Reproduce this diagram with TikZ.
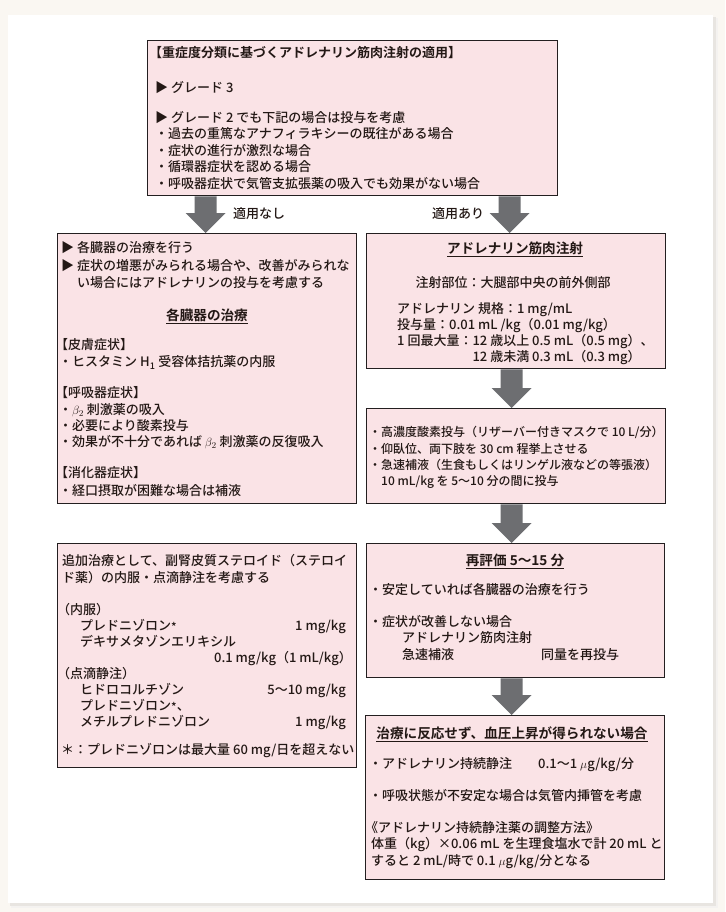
\documentclass[tikz,border=0pt]{standalone}
\usepackage{fontspec}
\setmainfont{Noto Sans CJK JP}[UprightFont={* Medium}, BoldFont={* Bold}]
\usetikzlibrary{calc}
\definecolor{bgc}{HTML}{FAF7F2}
\definecolor{shc}{HTML}{E8E5E1}
\definecolor{boxfill}{HTML}{FAE3E6}
\definecolor{boxline}{HTML}{231F20}
\definecolor{agray}{HTML}{6D6E71}
\definecolor{textc}{HTML}{231815}
\newcommand\bodyf{\fontsize{13}{16}\selectfont}
\newcommand\smallbodyf{\fontsize{12}{15}\selectfont}
\newcommand\ttlf{\fontsize{13.6}{16}\selectfont\bfseries}
\newcommand\smast{\raisebox{-0.5pt}{\fontsize{11.5}{11.5}\selectfont *}}
\tikzset{
  txt/.style={inner sep=0pt, font=\bodyf, text=textc},
  stxt/.style={inner sep=0pt, font=\smallbodyf, text=textc},
  ttl/.style={inner sep=0pt, font=\ttlf, text=textc},
  box/.style={draw=boxline, fill=boxfill, line width=1.4pt, inner sep=0pt, anchor=north west},
}
\newcommand\TxL[4]{\node[txt,anchor=base west] (#1) at (#2,#3+4.9) {#4};}
\newcommand\TxR[4]{\node[txt,anchor=base east] (#1) at (#2,#3+4.9) {#4};}
\newcommand\TxC[4]{\node[txt,anchor=base] (#1) at (#2,#3+4.9) {#4};}
\newcommand\TxS[4]{\node[stxt,anchor=base west] (#1) at (#2,#3+4.6) {#4};}
\newcommand\TxT[4]{\node[ttl,anchor=base] (#1) at (#2,#3+5.2) {\underline{#4}};}
\newcommand\BigArr[2]{\fill[agray] let \p1=(#1), \p2=(#2) in
  (\x1-11pt,\y1) -- (\x1+11pt,\y1) -- (\x1+11pt,\y2+20pt) -- (\x1+20pt,\y2+20pt)
  -- (\x1,\y2) -- (\x1-20pt,\y2+20pt) -- (\x1-11pt,\y2+20pt) -- cycle;}
\begin{document}
\begin{tikzpicture}[x=1pt,y=-1pt]
\useasboundingbox (0,0) rectangle (725,912);
\fill[bgc] (0,0) rectangle (725,912);
\fill[shc!50] (11,18) rectangle (718,908);
\fill[shc] (10,17) rectangle (715.5,905.5);
\fill[white] (8,15) rectangle (713,903);

% boxes
\node[box, minimum width=410pt, minimum height=155pt] (top) at (147,40) {};
\node[box, minimum width=299pt, minimum height=270pt] (lb1) at (57,233) {};
\node[box, minimum width=299pt, minimum height=135pt] (rb1) at (366,233) {};
\node[box, minimum width=299pt, minimum height=95pt] (rb2) at (366,408) {};
\node[box, minimum width=299pt, minimum height=224pt] (lb2) at (57,543) {};
\node[box, minimum width=298pt, minimum height=134pt] (rb3) at (366,543) {};
\node[box, minimum width=299pt, minimum height=164pt] (rb4) at (365,715) {};

% arrows
\BigArr{[xshift=-1.5pt]top.south -| lb1.north}{lb1.north}
\BigArr{[xshift=-6.5pt]top.south -| rb1.north}{rb1.north}
\BigArr{[xshift=-4.5pt]rb1.south}{rb2.north}
\BigArr{[xshift=-4.5pt]rb2.south}{rb3.north}
\BigArr{[xshift=-4pt]rb3.south}{rb4.north}
\TxL{lna}{233}{214}{適用なし}
\TxL{lar}{432}{214}{適用あり}

% top box
\node[ttl, anchor=base west, font=\fontsize{13}{16}\selectfont\bfseries] (tT) at (149,58) {【重症度分類に基づくアドレナリン筋肉注射の適用】};
\TxL{t1}{155}{88}{▶ グレード 3}
\TxL{t2}{155}{118}{▶ グレード 2 でも下記の場合は投与を考慮}
\TxL{t3}{155}{134}{・過去の重篤なアナフィラキシーの既往がある場合}
\TxL{t4}{155}{151}{・症状の進行が激烈な場合}
\TxL{t5}{155}{167}{・循環器症状を認める場合}
\TxL{t6}{155}{184}{・呼吸器症状で気管支拡張薬の吸入でも効果がない場合}

% left box 1
\TxL{l1}{61}{248}{▶ 各臓器の治療を行う}
\TxL{l2}{61}{266}{▶ 症状の増悪がみられる場合や、改善がみられな}
\TxL{l3}{77}{283}{い場合にはアドレナリンの投与を考慮する}
\TxT{lh}{207}{315}{各臓器の治療}
\TxL{l4}{55}{345}{【皮膚症状】}
\TxL{l5}{59}{362}{・ヒスタミン H\textsubscript{1} 受容体拮抗薬の内服}
\TxL{l6}{55}{393}{【呼吸器症状】}
\TxL{l7}{59}{410}{・$\beta_2$ 刺激薬の吸入}
\TxL{l8}{59}{426}{・必要により酸素投与}
\TxL{l9}{59}{442}{・効果が不十分であれば $\beta_2$ 刺激薬の反復吸入}
\TxL{l10}{55}{473}{【消化器症状】}
\TxL{l11}{59}{491}{・経口摂取が困難な場合は補液}

% right box 1
\TxT{rh1}{515}{248}{アドレナリン筋肉注射}
\TxC{r1}{513}{283}{注射部位：大腿部中央の前外側部}
\TxL{r2}{397}{309}{アドレナリン 規格：1 mg/mL}
\TxL{r3}{397}{325}{投与量：0.01 mL /kg（0.01 mg/kg）}
\TxL{r4}{397}{341}{1 回最大量：12 歳以上 0.5 mL（0.5 mg）、}
\TxL{r5}{397}{357}{\phantom{1 回最大量：}12 歳未満 0.3 mL（0.3 mg）}

% right box 2
\TxS{r6}{369}{432}{・高濃度酸素投与（リザーバー付きマスクで 10 L/分）}
\TxS{r7}{369}{449}{・仰臥位、両下肢を 30 cm 程挙上させる}
\TxS{r8}{369}{465}{・急速補液（生食もしくはリンゲル液などの等張液）}
\TxS{r9}{369}{481}{\phantom{・}10 mL/kg を 5〜10 分の間に投与}

% left box 2
\TxL{m1}{62}{561}{追加治療として、副腎皮質ステロイド（ステロイ}
\TxL{m2}{62}{578}{ド薬）の内服・点滴静注を考慮する}
\TxL{m3}{57}{610}{（内服）}
\TxL{m4}{80}{626}{プレドニゾロン\smast}
\TxR{m4r}{346}{626}{1 mg/kg}
\TxL{m5}{80}{642}{デキサメタゾンエリキシル}
\TxR{m5r}{352}{658}{0.1 mg/kg（1 mL/kg）}
\TxL{m6}{57}{674}{（点滴静注）}
\TxL{m7}{80}{690}{ヒドロコルチゾン}
\TxR{m7r}{346}{690}{5〜10 mg/kg}
\TxL{m8}{80}{706}{プレドニゾロン\smast 、}
\TxL{m9}{80}{722}{メチルプレドニゾロン}
\TxR{m9r}{346}{722}{1 mg/kg}
\TxL{m10}{61}{750}{＊：プレドニゾロンは最大量 60 mg/日を超えない}

% right box 3
\TxT{rh3}{515}{560}{再評価 5〜15 分}
\TxL{s1}{369}{590}{・安定していれば各臓器の治療を行う}
\TxL{s2}{369}{622}{・症状が改善しない場合}
\TxL{s3}{402}{638}{アドレナリン筋肉注射}
\TxL{s4}{402}{655}{急速補液}
\TxL{s5}{541}{655}{同量を再投与}

% right box 4
\TxT{rh4}{512}{733}{治療に反応せず、血圧上昇が得られない場合}
\TxL{u1}{369}{764}{・アドレナリン持続静注}
\TxL{u1b}{538}{764}{0.1〜1 $\mu$g/kg/分}
\TxL{u2}{369}{796}{・呼吸状態が不安定な場合は気管内挿管を考慮}
\TxL{u3}{365}{828}{《アドレナリン持続静注薬の調整方法》}
\TxL{u4}{371}{844}{体重（kg）×0.06 mL を生理食塩水で計 20 mL と}
\TxL{u5}{371}{861}{すると 2 mL/時で 0.1 $\mu$g/kg/分となる}
\end{tikzpicture}
\end{document}
